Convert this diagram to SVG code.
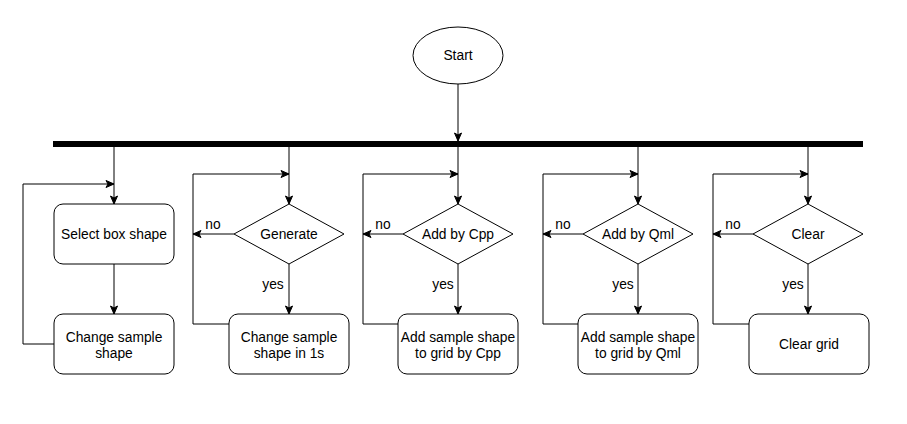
<svg xmlns="http://www.w3.org/2000/svg" width="907" height="424" viewBox="0 0 907 424">
<style>
.n{fill:#fff;stroke:#000;stroke-width:1}
.t{font-family:"Liberation Sans",Arial,sans-serif;font-size:13.8px;fill:#000;text-anchor:middle}
.c{fill:none;stroke:#000;stroke-width:1}
.lb{font-family:"Liberation Sans",Arial,sans-serif;font-size:13.8px;fill:#000;text-anchor:middle}
</style>
<defs>
<marker id="a" markerUnits="userSpaceOnUse" markerWidth="10" markerHeight="10" viewBox="0 0 10 10" refX="9" refY="5" orient="auto">
<path d="M1,1.5 L9,5 L1,8.5 L3,5 Z" fill="#000" stroke="#000" stroke-width="1"/>
</marker>
</defs>
<rect width="907" height="424" fill="#fff"/>
<g id="connectors">
<line class="c" x1="458" y1="84" x2="458" y2="141" marker-end="url(#a)"/>
<line class="c" x1="114" y1="146" x2="114" y2="204" marker-end="url(#a)"/>
<line class="c" x1="114" y1="264" x2="114" y2="314" marker-end="url(#a)"/>
<polyline class="c" points="54,344 23,344 23,184 114,184" marker-end="url(#a)"/>
<line class="c" x1="289" y1="146" x2="289" y2="204" marker-end="url(#a)"/>
<line class="c" x1="289" y1="264" x2="289" y2="314" marker-end="url(#a)"/>
<line class="c" x1="234" y1="234" x2="193" y2="234" marker-end="url(#a)"/>
<polyline class="c" points="229,324 193,324 193,174 289,174" marker-end="url(#a)"/>
<line class="c" x1="458" y1="146" x2="458" y2="204" marker-end="url(#a)"/>
<line class="c" x1="458" y1="264" x2="458" y2="314" marker-end="url(#a)"/>
<line class="c" x1="403" y1="234" x2="363" y2="234" marker-end="url(#a)"/>
<polyline class="c" points="398,324 363,324 363,174 458,174" marker-end="url(#a)"/>
<line class="c" x1="638" y1="146" x2="638" y2="204" marker-end="url(#a)"/>
<line class="c" x1="638" y1="264" x2="638" y2="314" marker-end="url(#a)"/>
<line class="c" x1="583" y1="234" x2="543" y2="234" marker-end="url(#a)"/>
<polyline class="c" points="578,324 543,324 543,174 638,174" marker-end="url(#a)"/>
<line class="c" x1="808" y1="146" x2="808" y2="204" marker-end="url(#a)"/>
<line class="c" x1="808" y1="264" x2="808" y2="314" marker-end="url(#a)"/>
<line class="c" x1="753" y1="234" x2="713" y2="234" marker-end="url(#a)"/>
<polyline class="c" points="749,324 713,324 713,174 808,174" marker-end="url(#a)"/>
<text class="lb" x="213" y="229">no</text>
<text class="lb" x="383" y="229">no</text>
<text class="lb" x="563" y="229">no</text>
<text class="lb" x="733" y="229">no</text>
<text class="lb" x="273" y="289">yes</text>
<text class="lb" x="443" y="289">yes</text>
<text class="lb" x="623" y="289">yes</text>
<text class="lb" x="793" y="289">yes</text>
</g>
<g id="bar"><rect x="53" y="141" width="810" height="6" fill="#000"/></g>
<g id="start"><ellipse class="n" cx="458" cy="55.5" rx="45" ry="28.5"/><text class="t" x="458" y="60">Start</text></g>
<g id="select"><rect class="n" x="54" y="204" width="120" height="60" rx="9"/><text class="t" x="114" y="239">Select box shape</text></g>
<g id="change"><rect class="n" x="54" y="314" width="120" height="60" rx="9"/><text class="t" x="114" y="341.6">Change sample</text><text class="t" x="114" y="357.6">shape</text></g>
<g id="generate"><polygon class="n" points="289,204 344,234 289,264 234,234"/><text class="t" x="289" y="239">Generate</text></g>
<g id="change1s"><rect class="n" x="229" y="314" width="120" height="60" rx="9"/><text class="t" x="289" y="341.6">Change sample</text><text class="t" x="289" y="357.6">shape in 1s</text></g>
<g id="addcpp"><polygon class="n" points="458,204 513,234 458,264 403,234"/><text class="t" x="458" y="239">Add by Cpp</text></g>
<g id="addcppbox"><rect class="n" x="398" y="314" width="120" height="60" rx="9"/><text class="t" x="458" y="341.6">Add sample shape</text><text class="t" x="458" y="357.6">to grid by Cpp</text></g>
<g id="addqml"><polygon class="n" points="638,204 693,234 638,264 583,234"/><text class="t" x="638" y="239">Add by Qml</text></g>
<g id="addqmlbox"><rect class="n" x="578" y="314" width="120" height="60" rx="9"/><text class="t" x="638" y="341.6">Add sample shape</text><text class="t" x="638" y="357.6">to grid by Qml</text></g>
<g id="clear"><polygon class="n" points="808,204 863,234 808,264 753,234"/><text class="t" x="808" y="239">Clear</text></g>
<g id="cleargrid"><rect class="n" x="749" y="314" width="120" height="60" rx="9"/><text class="t" x="809" y="349">Clear grid</text></g>
</svg>
